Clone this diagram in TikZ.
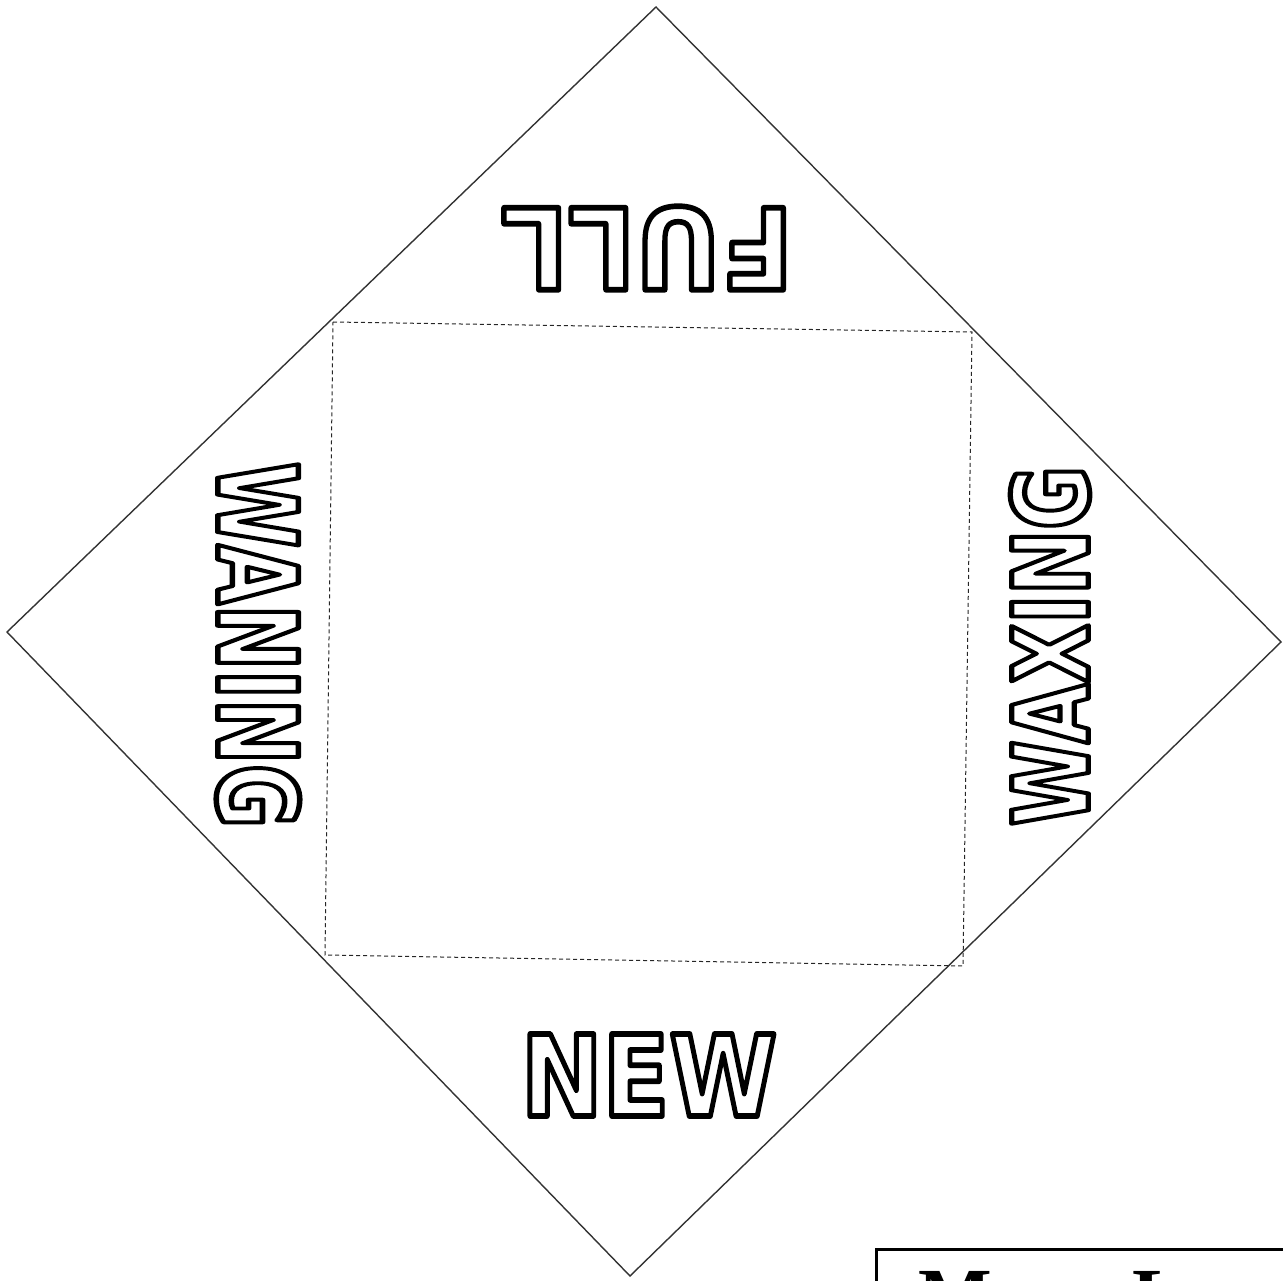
\documentclass[tikz,border=0pt]{standalone}
\usepackage{fontspec}
\newfontfamily\bubblefont{DejaVu Sans Bold}
\newfontfamily\titlefont{Liberation Serif Bold}
\newcommand{\outlined}[1]{\special{pdf:literal direct 1 Tr 0.5 w 1 j}#1\special{pdf:literal direct 0 Tr}}
\newcommand{\bubbletext}[3]{\resizebox{#1}{#2}{\bubblefont\outlined{#3}}}
\begin{document}
\begin{tikzpicture}[x=1pt,y=-1pt,
  edge/.style={line width=1.4pt, draw=black!80},
  fold/.style={line width=1pt, draw=black!85, dash pattern=on 4pt off 3pt},
  word/.style={inner sep=0pt, outer sep=0pt}]
\useasboundingbox (0,0) rectangle (1283,1281);
\clip (0,0) rectangle (1283,1281);
\coordinate (T) at (656,7);
\coordinate (R) at (1281,642);
\coordinate (B) at (630,1276);
\coordinate (L) at (7,632);
\draw[edge] (T) -- (R) -- (B) -- (L) -- cycle;
\coordinate (a) at (333,322);
\coordinate (b) at (972,332);
\coordinate (c) at (963,966);
\coordinate (d) at (325,955);
\draw[fold] (a) -- (b) -- (c) -- (d) -- cycle;
\node[word, rotate=180] (full) at (647,248) {\bubbletext{292pt}{82pt}{FULL}};
\node[word] (new) at (649,1075) {\bubbletext{256pt}{82pt}{NEW}};
\node[word, rotate=90] (waxing) at (1050,646) {\bubbletext{360pt}{78pt}{WAXING}};
\node[word, rotate=-90] (waning) at (258,645) {\bubbletext{366pt}{82pt}{WANING}};
\draw[line width=3pt] (1300,1249) -- (876,1249) -- (876,1300);
\node[inner sep=0pt, anchor=base west] (title) at (918,1322) {\fontsize{78}{80}\selectfont\titlefont Moon Log};
\end{tikzpicture}
\end{document}
